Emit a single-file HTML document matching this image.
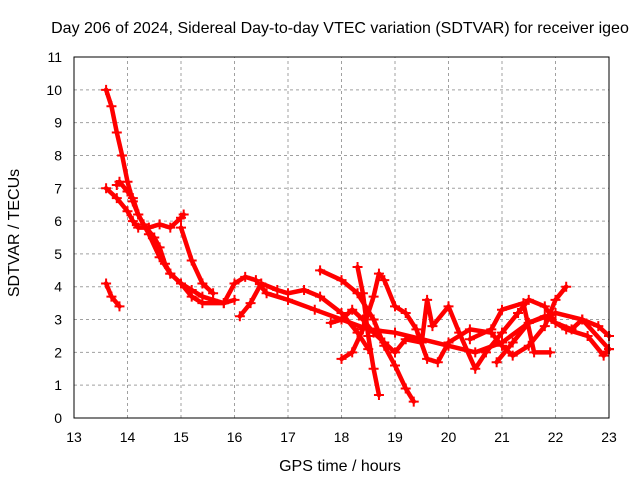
<!DOCTYPE html>
<html><head><meta charset="utf-8"><style>
body{margin:0;background:#fff}
svg text{font-family:"Liberation Sans",sans-serif;font-size:14px;fill:#000}
svg text.big{font-size:16px}
</style></head><body>
<svg id="chart" width="640" height="480" xmlns="http://www.w3.org/2000/svg">
<text class="big" x="340" y="33" text-anchor="middle">Day 206 of 2024, Sidereal Day-to-day VTEC variation (SDTVAR) for receiver igeo</text>
<text class="big" transform="translate(19,233) rotate(-90)" text-anchor="middle">SDTVAR / TECUs</text>
<text class="big" x="340" y="471" text-anchor="middle">GPS time / hours</text>
<g id="grid"></g><g id="ticks"></g><g id="series"></g>
<rect x="74" y="57" width="535" height="361" fill="none" stroke="#000" stroke-width="1"/>
</svg>
<script>
const xTicks=[13,14,15,16,17,18,19,20,21,22,23];
const yTicks=[0,1,2,3,4,5,6,7,8,9,10,11];
const trackA=[[13.6,10.0],[13.7,9.5],[13.8,8.7],[13.9,8.0],[14.0,7.2],[14.1,6.6],[14.2,6.2],[14.3,5.9],[14.5,5.5],[14.6,5.2],[14.7,4.7],[14.8,4.4],[15.0,4.1],[15.2,3.9],[15.4,3.7],[15.6,3.6],[15.8,3.5],[16.0,3.6]];
const trackB=[[13.6,7.0],[13.8,6.7],[14.0,6.3],[14.1,6.0],[14.2,5.8],[14.4,5.8],[14.6,5.9],[14.8,5.8],[15.0,6.1],[15.05,6.2]];
const trackC=[[13.6,4.1],[13.7,3.7],[13.85,3.4]];
const trackD=[[13.8,7.1],[13.85,7.2],[14.0,6.9],[14.1,6.7],[14.2,6.2],[14.4,5.6],[14.6,4.9],[14.8,4.4],[15.0,4.1],[15.2,3.7],[15.4,3.5],[15.8,3.5],[16.0,4.1],[16.2,4.3],[16.4,4.2],[16.6,3.8],[17.0,3.6],[17.5,3.3],[18.0,3.0],[18.5,2.7],[19.0,2.6],[19.5,2.4],[20.0,2.2],[20.5,2.0],[21.0,2.3],[21.5,2.9],[22.0,3.2],[22.5,3.0],[23.0,2.1]];
const trackE=[[15.0,5.8],[15.2,4.8],[15.4,4.1],[15.6,3.8]];
const trackF=[[16.1,3.1],[16.3,3.5],[16.5,4.1],[16.8,3.9],[17.0,3.8],[17.3,3.9],[17.6,3.7],[18.0,3.2],[18.3,2.6],[18.5,2.1]];
const trackG=[[17.6,4.5],[18.0,4.2],[18.3,3.8],[18.6,3.0],[18.8,2.2],[19.0,1.6],[19.2,0.9],[19.35,0.5]];
const trackH=[[18.0,1.8],[18.2,2.0],[18.4,2.7],[18.6,3.7],[18.7,4.4],[18.8,4.2],[19.0,3.4],[19.2,3.2],[19.4,2.7],[19.6,1.8],[19.8,1.7],[20.0,2.3]];
const trackI=[[18.3,4.6],[18.4,3.8],[18.5,2.5],[18.6,1.5],[18.7,0.7]];
const trackJ=[[17.8,2.9],[18.0,3.0],[18.2,3.3],[18.4,3.0],[18.6,2.6],[18.8,2.3],[19.0,2.0],[19.2,2.4],[19.5,2.3],[19.6,3.6],[19.7,2.8],[20.0,3.4],[20.2,2.6],[20.5,1.5],[20.7,2.0],[21.0,2.6],[21.3,3.2],[21.5,3.6],[21.8,3.4],[22.0,2.9],[22.3,2.7],[22.5,3.0],[22.8,2.8],[23.0,2.5]];
const trackK=[[20.0,2.3],[20.4,2.7],[20.8,2.6],[21.0,2.2],[21.2,1.9],[21.5,2.2],[21.8,2.8],[22.0,3.6],[22.2,4.0]];
const trackL=[[20.4,2.4],[20.8,2.7],[21.0,3.3],[21.4,3.5],[21.6,2.0],[21.9,2.0]];
const trackM=[[20.9,1.7],[21.2,2.3],[21.5,2.9],[21.8,3.1],[22.2,2.7],[22.6,2.5],[22.9,1.9],[23.0,2.1]];
const tracks=[trackA,trackB,trackC,trackD,trackE,trackF,trackG,trackH,trackI,trackJ,trackK,trackL,trackM];
const NS="http://www.w3.org/2000/svg";
const X0=74,X1=609,Y0=418,Y1=57;
const sx=v=>X0+(v-13)/(23-13)*(X1-X0);
const sy=v=>Y0-(v-0)/(11-0)*(Y0-Y1);
const grid=document.getElementById('grid'),ticks=document.getElementById('ticks'),ser=document.getElementById('series');
function mk(t,a,p){const e=document.createElementNS(NS,t);for(const k in a)e.setAttribute(k,a[k]);p.appendChild(e);return e;}
xTicks.forEach(v=>{
 const x=sx(v);
 if(v>13&&v<23){const g=mk('line',{x1:x,x2:x,y1:Y0,y2:Y1,stroke:'#a0a0a0','stroke-dasharray':'3,3'},grid);
 
 }
 const t=mk('text',{x:x,y:Y0+24,'text-anchor':'middle'},ticks);t.textContent=v;
 
 
});
yTicks.forEach(v=>{
 const y=sy(v);
 if(v>0&&v<11){const g=mk('line',{x1:X0,x2:X1,y1:y,y2:y,stroke:'#a0a0a0','stroke-dasharray':'3,3'},grid);
 
 }
 const t=mk('text',{x:X0-12,y:y+5,'text-anchor':'end'},ticks);t.textContent=v;
 
 
});
tracks.forEach((tr,i)=>{
 const pts=tr.map(p=>sx(p[0])+','+sy(p[1])).join(' ');
 const pl=mk('polyline',{points:pts,fill:'none',stroke:'#ff0000','stroke-width':4.5,'stroke-linejoin':'round','stroke-linecap':'round'},ser);
 
 
 tr.forEach(p=>{
  const x=sx(p[0]),y=sy(p[1]);
  const m=mk('path',{d:`M${x-5},${y}H${x+5}M${x},${y-5}V${y+5}`,stroke:'#ff0000','stroke-width':2},ser);
  
  
 });
});
</script>
</body></html>
